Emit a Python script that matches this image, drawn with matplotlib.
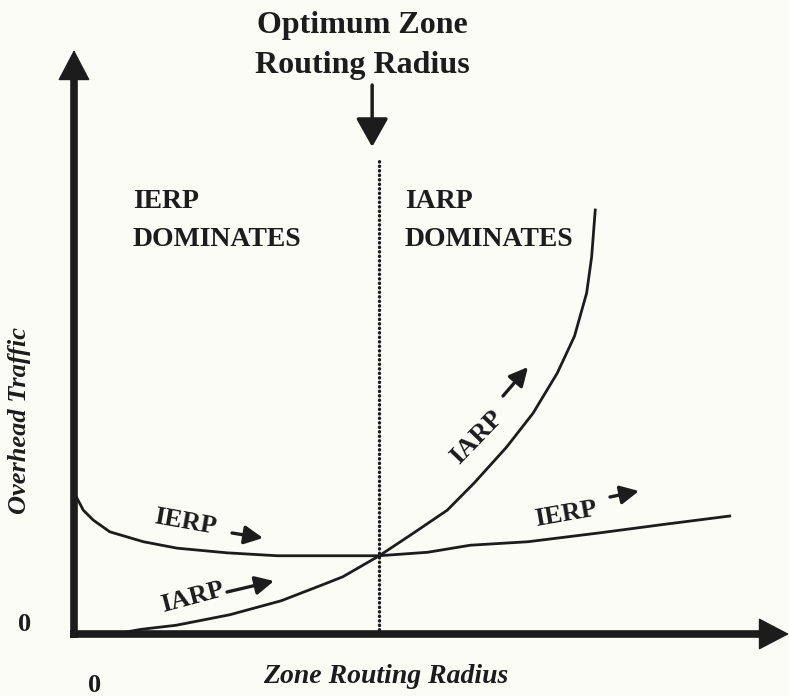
import matplotlib
matplotlib.use('Agg')
import matplotlib.pyplot as plt

plt.rcParams.update({
    'font.family': ['Liberation Serif', 'DejaVu Serif'],
    'font.weight': 'bold',
})

# ── data (arbitrary units) ──
ierp_x = [0.04, 0.13, 0.27, 0.50, 0.97, 1.44, 2.14, 2.84, 4.27, 4.95, 5.54, 6.35, 7.34, 8.27, 9.17]
ierp_y = [2.33, 2.12, 1.95, 1.75, 1.58, 1.47, 1.39, 1.34, 1.34, 1.40, 1.52, 1.58, 1.73, 1.88, 2.02]

iarp_x = [0.57, 0.94, 1.43, 2.18, 2.90, 3.47, 3.76, 4.27, 4.75, 5.22, 5.60, 6.05, 6.42, 6.76, 7.00, 7.17, 7.24, 7.29]
iarp_y = [0.00, 0.08, 0.15, 0.33, 0.57, 0.84, 0.98, 1.34, 1.73, 2.12, 2.59, 3.20, 3.78, 4.47, 5.10, 5.84, 6.46, 7.26]

r_opt = 4.27        # optimum zone routing radius (crossing point)
dotted_top = 8.12
x_end, y_end = 10.0, 10.0

W, H = 789, 696
INK = '#1c1c1c'
BG = '#fcfcf7'

fig = plt.figure(figsize=(W / 100, H / 100), dpi=100, facecolor=BG)
ax = fig.add_axes([0, 0, 1, 1], facecolor=BG)
# data x=0 at px 74, x=10 at px 789 ; y=0 at py 634, y=10 at py 50
sx, sy = 71.5, 58.4
ax.set_xlim(-74 / sx, (W - 74) / sx)
ax.set_ylim(-(H - 634) / sy, 634 / sy)
ax.axis('off')


def fp(px, py):
    return px / W, 1 - py / H


# axes with arrow heads
ax.plot([-0.06, x_end - 0.35], [0, 0], color=INK, lw=5.5, solid_capstyle='butt')
ax.plot([0, 0], [-0.07, y_end - 0.5], color=INK, lw=5.5, solid_capstyle='butt')
ax.annotate('', xy=(x_end, 0), xytext=(x_end - 0.5, 0),
            arrowprops=dict(arrowstyle='-|>,head_length=0.42,head_width=0.22',
                            mutation_scale=48, color=INK, lw=1, shrinkA=0, shrinkB=0))
ax.annotate('', xy=(0, y_end), xytext=(0, y_end - 0.7),
            arrowprops=dict(arrowstyle='-|>,head_length=0.42,head_width=0.22',
                            mutation_scale=48, color=INK, lw=1, shrinkA=0, shrinkB=0))

# curves
ax.plot(ierp_x, ierp_y, color=INK, lw=2.0, solid_joinstyle='round')
ax.plot(iarp_x, iarp_y, color=INK, lw=2.0, solid_joinstyle='round')

# optimum radius marker
ax.plot([r_opt, r_opt], [0, dotted_top], color=INK, lw=2.4,
        linestyle=(0, (0.1, 1.25)), dash_capstyle='round')
ax.annotate('', xy=(r_opt - 0.1, dotted_top + 0.22), xytext=(r_opt - 0.1, dotted_top + 1.28),
            arrowprops=dict(arrowstyle='-|>,head_length=0.8,head_width=0.45',
                            mutation_scale=22, color=INK, lw=2.5, shrinkA=0, shrinkB=0))

# title
fig.text(*fp(362, 33), 'Optimum Zone', fontsize=23, ha='center', va='baseline', color=INK)
fig.text(*fp(362, 73), 'Routing Radius', fontsize=23, ha='center', va='baseline', color=INK)

# region labels
for x0, first in [(133, 'IERP'), (405, 'IARP')]:
    fig.text(*fp(x0, 208), first, fontsize=20, ha='left', va='baseline', color=INK)
    fig.text(*fp(x0, 246), 'DOMINATES', fontsize=20, ha='left', va='baseline', color=INK)

# curve labels with small arrows
labels = [
    ('IERP', (153, 523), -10, (232, 533), (263, 538)),
    ('IARP', (163, 612), 15, (227, 592), (274, 581)),
    ('IARP', (459, 465), 46, (503, 396), (528, 367)),
    ('IERP', (536, 526), 10, (610, 497), (639, 491)),
]
for txt, (lx, ly), rot, (ax0, ay0), (ax1, ay1) in labels:
    fig.text(*fp(lx, ly), txt, fontsize=19, rotation=rot, rotation_mode='anchor',
             ha='left', va='baseline', color=INK)
    ax.annotate('', xy=fp(ax1, ay1), xytext=fp(ax0, ay0),
                xycoords='figure fraction', textcoords='figure fraction',
                arrowprops=dict(arrowstyle='-|>,head_length=0.7,head_width=0.35',
                                mutation_scale=16, color=INK, lw=2.4, shrinkA=0, shrinkB=0))

# axis labels and zeros
fig.text(*fp(386, 683), 'Zone Routing Radius', fontsize=20, style='italic',
         ha='center', va='baseline', color=INK)
fig.text(*fp(20, 421), 'Overhead Traffic', fontsize=19, style='italic', rotation=90,
         ha='center', va='center', color=INK)
fig.text(*fp(95, 692), '0', fontsize=19, ha='center', va='baseline', color=INK)
fig.text(*fp(25, 631), '0', fontsize=19, ha='center', va='baseline', color=INK)

fig.savefig('out.png', dpi=100, facecolor=BG)
plt.close(fig)
